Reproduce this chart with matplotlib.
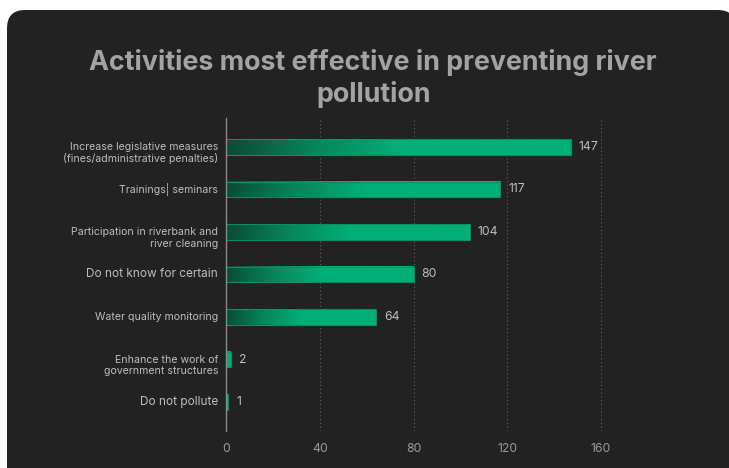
import numpy as np
import matplotlib.pyplot as plt
from matplotlib.patches import FancyBboxPatch, Rectangle
from matplotlib.colors import LinearSegmentedColormap

plt.rcParams['font.family'] = ['Inter', 'DejaVu Sans']

labels = ["Increase legislative measures\n(fines/administrative penalties)",
          "Trainings| seminars",
          "Participation in riverbank and\nriver cleaning",
          "Do not know for certain",
          "Water quality monitoring",
          "Enhance the work of\ngovernment structures",
          "Do not pollute"]
label_sizes = [7.6, 7.6, 7.6, 8.5, 7.6, 7.6, 8.5]
values = [147, 117, 104, 80, 64, 2, 1]
xticks = [0, 40, 80, 120, 160]

bg = "#222222"
fig = plt.figure(figsize=(7.29, 4.68), dpi=100)
fig.patch.set_facecolor("white")

# dark rounded card behind everything
card = FancyBboxPatch((7 / 729, -0.1), 1.0, 1.1 - 10 / 468,
                      boxstyle="round,pad=0,rounding_size=0.025",
                      transform=fig.transFigure, facecolor=bg,
                      edgecolor="none", mutation_aspect=729 / 468, zorder=-5)
fig.patches.append(card)

fig.text(0.512, 0.833, "Activities most effective in preventing river\npollution",
         ha="center", va="center", color="#a3a3a3", fontsize=19.3,
         fontweight="bold", linespacing=1.25)

ax = fig.add_axes([226 / 729, 1 - 431 / 468, (168 * 93.75 / 40) / 729, 313 / 468])
ax.set_facecolor(bg)

cmap = LinearSegmentedColormap.from_list("g", ["#0a4b33", "#07845a", "#00ae76"])
bar_h = 0.37
for i, v in enumerate(values):
    # dark-to-bright ramp over the left half of each bar; tiny bars stay bright
    start = 0.0 if v > 10 else 0.75
    ramp = np.clip(start + np.linspace(0, 1, 256) / 0.5, 0, 1)
    ax.imshow(ramp[np.newaxis, :], cmap=cmap, vmin=0, vmax=1, aspect="auto",
              extent=(0, v, i + bar_h / 2, i - bar_h / 2), zorder=2,
              interpolation="bilinear")
    ax.add_patch(Rectangle((0, i - bar_h / 2), v, bar_h, facecolor="none",
                           edgecolor="#08905f", linewidth=0.8, zorder=2.5))
    ax.text(v + 3.4, i, str(v), va="center", ha="left", color="#bdbdbd",
            fontsize=8.8)
ax.set_ylim(len(values) - 1 + 0.68, -0.68)
ax.set_xlim(0, 168)

# category names drawn by hand so two-line names can hang below the bar
ax.set_yticks([])
for i, (lab, s) in enumerate(zip(labels, label_sizes)):
    dy = -6 if "\n" in lab else 0
    ax.annotate(lab, xy=(0, i), xycoords=("axes fraction", "data"),
                xytext=(-8, dy), textcoords="offset pixels", ha="right",
                va="center", color="#bdbdbd", fontsize=s, linespacing=1.2)

ax.set_xticks(xticks)
ax.set_xticklabels([str(x) for x in xticks], color="#9a9a9a", fontsize=8.8)
ax.tick_params(axis="both", length=0)
ax.tick_params(axis="x", pad=9)

for x in xticks[1:]:
    ax.axvline(x, color="#5a5a5a", linestyle=(0, (1.2, 2.2)), linewidth=0.8,
               zorder=1)

for s in ["top", "right", "bottom"]:
    ax.spines[s].set_visible(False)
ax.spines["left"].set_color("#8a8a8a")
ax.spines["left"].set_linewidth(1.0)
ax.spines["left"].set_zorder(3)

fig.savefig("out.png", dpi=100, facecolor=fig.get_facecolor())
